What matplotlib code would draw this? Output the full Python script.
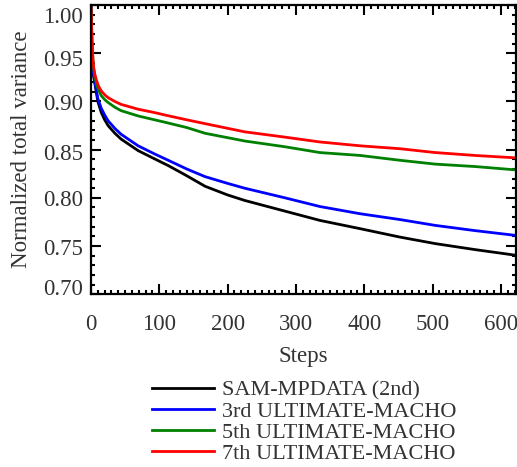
import matplotlib
matplotlib.use("Agg")
import matplotlib.pyplot as plt
import matplotlib.transforms as mtransforms
from matplotlib.ticker import MultipleLocator, FormatStrFormatter

# values
red_steps = [0, 1, 2, 3, 4, 5.4, 8, 11, 15, 20, 25, 35, 44, 69, 93, 108, 140, 167, 225, 284, 335, 394, 452, 504, 562, 622]
red_vals = [1.0, 0.975, 0.955, 0.942, 0.935, 0.929, 0.922, 0.916, 0.911, 0.907, 0.904, 0.900, 0.897, 0.892, 0.8885, 0.886, 0.881, 0.877, 0.8685, 0.863, 0.858, 0.854, 0.851, 0.847, 0.844, 0.8415]

green_steps = [0, 1, 2, 3, 4, 5.4, 8, 11, 15, 20, 25, 35, 44, 69, 93, 108, 140, 167, 225, 284, 335, 394, 452, 504, 562, 622]
green_vals = [1.0, 0.975, 0.955, 0.941, 0.933, 0.927, 0.918, 0.912, 0.906, 0.902, 0.899, 0.894, 0.8905, 0.885, 0.881, 0.8785, 0.873, 0.867, 0.859, 0.853, 0.847, 0.844, 0.839, 0.835, 0.8325, 0.829]

blue_steps = [0, 0.5, 1, 2, 3, 5.4, 10, 15, 20, 25, 35, 44, 69, 93, 113, 140, 167, 200, 225, 284, 335, 394, 452, 504, 562, 622]
blue_vals = [1.0, 0.965, 0.945, 0.937, 0.932, 0.921, 0.903, 0.893, 0.886, 0.880, 0.872, 0.866, 0.854, 0.8456, 0.839, 0.830, 0.822, 0.815, 0.810, 0.800, 0.791, 0.7835, 0.7775, 0.7714, 0.766, 0.761]

black_steps = [0, 0.5, 1, 2, 3, 5.4, 10, 15, 20, 25, 35, 44, 69, 93, 113, 140, 167, 200, 225, 284, 335, 394, 452, 504, 562, 622]
black_vals = [1.0, 0.965, 0.945, 0.936, 0.930, 0.920, 0.900, 0.8887, 0.881, 0.875, 0.867, 0.861, 0.849, 0.8405, 0.8335, 0.823, 0.812, 0.803, 0.7973, 0.7862, 0.7766, 0.768, 0.7593, 0.7525, 0.7463, 0.7404]

labels = ["SAM-MPDATA (2nd)", "3rd ULTIMATE-MACHO", "5th ULTIMATE-MACHO", "7th ULTIMATE-MACHO"]

plt.rcParams["font.family"] = ["Liberation Serif", "DejaVu Serif"]
plt.rcParams["font.size"] = 16.5
text_col = "#333333"

fig = plt.figure(figsize=(5.17, 4.67), dpi=100)
ax = fig.add_axes([0.176, 0.370, 0.822, 0.619])

ax.plot(black_steps, black_vals, color="black", lw=2, label=labels[0])
ax.plot(blue_steps, blue_vals, color="#0000ff", lw=2, label=labels[1])
ax.plot(green_steps, green_vals, color="#008000", lw=2, label=labels[2])
ax.plot(red_steps, red_vals, color="#ff0000", lw=2, label=labels[3])

ax.set_xlim(0, 622)
ax.set_ylim(0.70, 1.00)
ax.xaxis.set_major_locator(MultipleLocator(100))
ax.xaxis.set_minor_locator(MultipleLocator(10))
ax.yaxis.set_major_locator(MultipleLocator(0.05))
ax.yaxis.set_minor_locator(MultipleLocator(0.01))
ax.yaxis.set_major_formatter(FormatStrFormatter("%.2f"))

ax.tick_params(which="both", direction="in", top=True, right=True, width=1.5,
               color="black", labelcolor=text_col, labelsize=16.5)
ax.tick_params(which="major", length=7)
ax.tick_params(which="minor", length=3)
ax.tick_params(axis="x", which="major", pad=14)
ax.tick_params(axis="y", which="major", pad=6)
for s in ax.spines.values():
    s.set_linewidth(1.6)

ax.set_xlabel("Steps", color=text_col, labelpad=8)
ax.set_ylabel("Normalized total variance", color=text_col, labelpad=8)

# the y labels sit a little off their ticks in the reference (pulled in at the ends)
fig.canvas.draw()
shift_px = {"1.00": 10, "0.95": 5, "0.90": 1, "0.85": 2, "0.80": 0, "0.75": 1, "0.70": -7}
for tick in ax.yaxis.get_major_ticks():
    lab = tick.label1
    dy = shift_px.get(lab.get_text(), 0)
    off = mtransforms.ScaledTranslation(0, -dy / 100, fig.dpi_scale_trans)
    lab.set_transform(lab.get_transform() + off)

leg = fig.legend(loc="upper left", bbox_to_anchor=(0.294, 0.186), frameon=False,
                 fontsize=16, handlelength=2.8, handletextpad=0.35, labelspacing=0.02,
                 borderpad=0, borderaxespad=0)
for t in leg.get_texts():
    t.set_color(text_col)

fig.savefig("out.png", dpi=100)
